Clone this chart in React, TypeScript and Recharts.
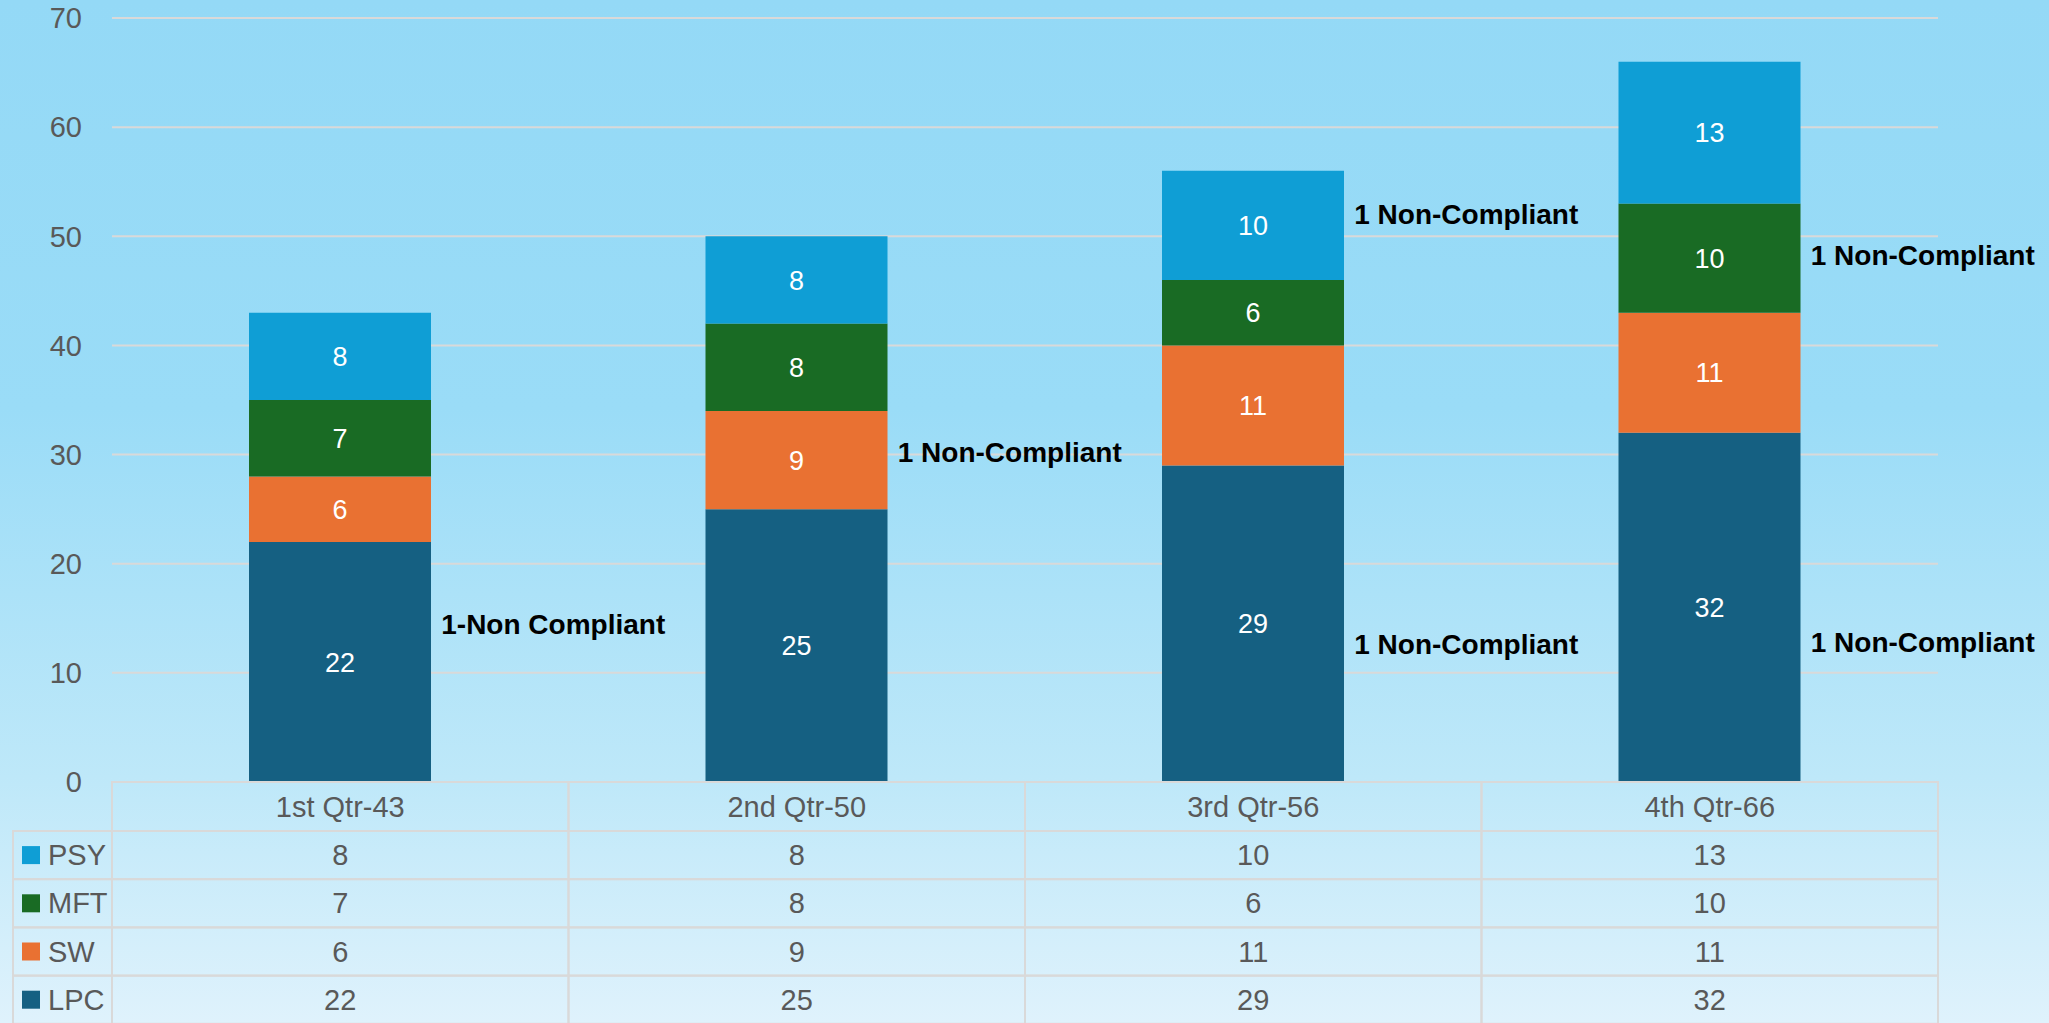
import { Bar, BarChart, CartesianGrid, LabelList, ReferenceDot, XAxis, YAxis } from 'recharts'

const quarters = ['1st Qtr-43', '2nd Qtr-50', '3rd Qtr-56', '4th Qtr-66']
const lpc = [22, 25, 29, 32]
const sw = [6, 9, 11, 11]
const mft = [7, 8, 6, 10]
const psy = [8, 8, 10, 13]
const yTicks = [0, 10, 20, 30, 40, 50, 60, 70]

// where the "Non-Compliant" notes sit, in y-axis units
const notes = [
  { quarter: '1st Qtr-43', at: 14.4, text: '1-Non Compliant' },
  { quarter: '2nd Qtr-50', at: 30.2, text: '1 Non-Compliant' },
  { quarter: '3rd Qtr-56', at: 52, text: '1 Non-Compliant' },
  { quarter: '3rd Qtr-56', at: 12.6, text: '1 Non-Compliant' },
  { quarter: '4th Qtr-66', at: 48.2, text: '1 Non-Compliant' },
  { quarter: '4th Qtr-66', at: 12.8, text: '1 Non-Compliant' },
]

const series = [
  { key: 'PSY', values: psy, color: '#0F9ED5' },
  { key: 'MFT', values: mft, color: '#196B24' },
  { key: 'SW', values: sw, color: '#E97132' },
  { key: 'LPC', values: lpc, color: '#156082' },
]

const data = quarters.map((q, i) => ({
  name: q,
  LPC: lpc[i],
  SW: sw[i],
  MFT: mft[i],
  PSY: psy[i],
}))

const W = 2049
const H = 1023
const PLOT_LEFT = 112
const PLOT_RIGHT = 1938
const BAND = (PLOT_RIGHT - PLOT_LEFT) / quarters.length
const BAR_W = 182
const HEAD_H = 49
const ROW_H = 48.2
const FONT = '"Liberation Sans", Arial, sans-serif'
const GRID = '#D9D9D9'
const TXT = '#595959'

function TableTick(props: any) {
  const { x, y, payload } = props
  const i = payload?.index ?? props.index ?? 0
  const left = x - BAND / 2
  const cells = []
  cells.push(
    <g key="h">
      <rect x={left} y={y} width={BAND} height={HEAD_H} fill="none" stroke={GRID} strokeWidth={2} />
      <text x={x} y={y + HEAD_H / 2} textAnchor="middle" dominantBaseline="central" fontSize={29} fill={TXT} fontFamily={FONT}>
        {payload.value}
      </text>
    </g>
  )
  series.forEach((s, r) => {
    const top = y + HEAD_H + r * ROW_H
    cells.push(
      <g key={s.key}>
        <rect x={left} y={top} width={BAND} height={ROW_H} fill="none" stroke={GRID} strokeWidth={2} />
        <text x={x} y={top + ROW_H / 2} textAnchor="middle" dominantBaseline="central" fontSize={29} fill={TXT} fontFamily={FONT}>
          {s.values[i]}
        </text>
      </g>
    )
    if (i === 0) {
      cells.push(
        <g key={'lg' + s.key}>
          <rect x={13} y={top} width={PLOT_LEFT - 13} height={ROW_H} fill="none" stroke={GRID} strokeWidth={2} />
          <rect x={22} y={top + ROW_H / 2 - 9} width={18} height={18} fill={s.color} />
          <text x={48} y={top + ROW_H / 2} dominantBaseline="central" fontSize={29} fill={TXT} fontFamily={FONT}>
            {s.key}
          </text>
        </g>
      )
    }
  })
  return <g>{cells}</g>
}

function NoteShape(text: string) {
  return (p: any) => (
    <text
      x={p.cx + BAR_W / 2 + 10}
      y={p.cy}
      dominantBaseline="central"
      fontSize={28}
      fontWeight="bold"
      fill="#000"
      fontFamily={FONT}
    >
      {text}
    </text>
  )
}

export default function App() {
  return (
    <div
      style={{
        position: 'absolute',
        left: 0,
        top: 0,
        width: W,
        height: H,
        overflow: 'hidden',
        background: 'linear-gradient(180deg, #94D9F6 0%, #9ADCF7 40%, #BEE8F9 76%, #DFF2FC 100%)',
      }}
    >
      <BarChart
        width={W}
        height={H}
        data={data}
        margin={{ top: 18, right: W - PLOT_RIGHT, left: 0, bottom: 0 }}
        barSize={BAR_W}
      >
        <CartesianGrid vertical={false} stroke={GRID} strokeWidth={2} />
        <XAxis
          dataKey="name"
          axisLine={false}
          tickLine={false}
          tickSize={0}
          tickMargin={0}
          height={H - 782}
          interval={0}
          tick={TableTick}
        />
        <YAxis
          domain={[0, 70]}
          ticks={yTicks}
          width={PLOT_LEFT}
          axisLine={false}
          tickLine={false}
          tickMargin={24}
          tick={{ fontSize: 29, fill: TXT, fontFamily: FONT }}
        />
        {[...series].reverse().map(s => (
          <Bar key={s.key} dataKey={s.key} stackId="a" fill={s.color} isAnimationActive={false}>
            <LabelList dataKey={s.key} position="center" fill="#FFFFFF" fontSize={27} fontFamily={FONT} />
          </Bar>
        ))}
        {notes.map((n, k) => (
          <ReferenceDot key={k} x={n.quarter} y={n.at} r={1} ifOverflow="visible" shape={NoteShape(n.text)} />
        ))}
      </BarChart>
    </div>
  )
}
